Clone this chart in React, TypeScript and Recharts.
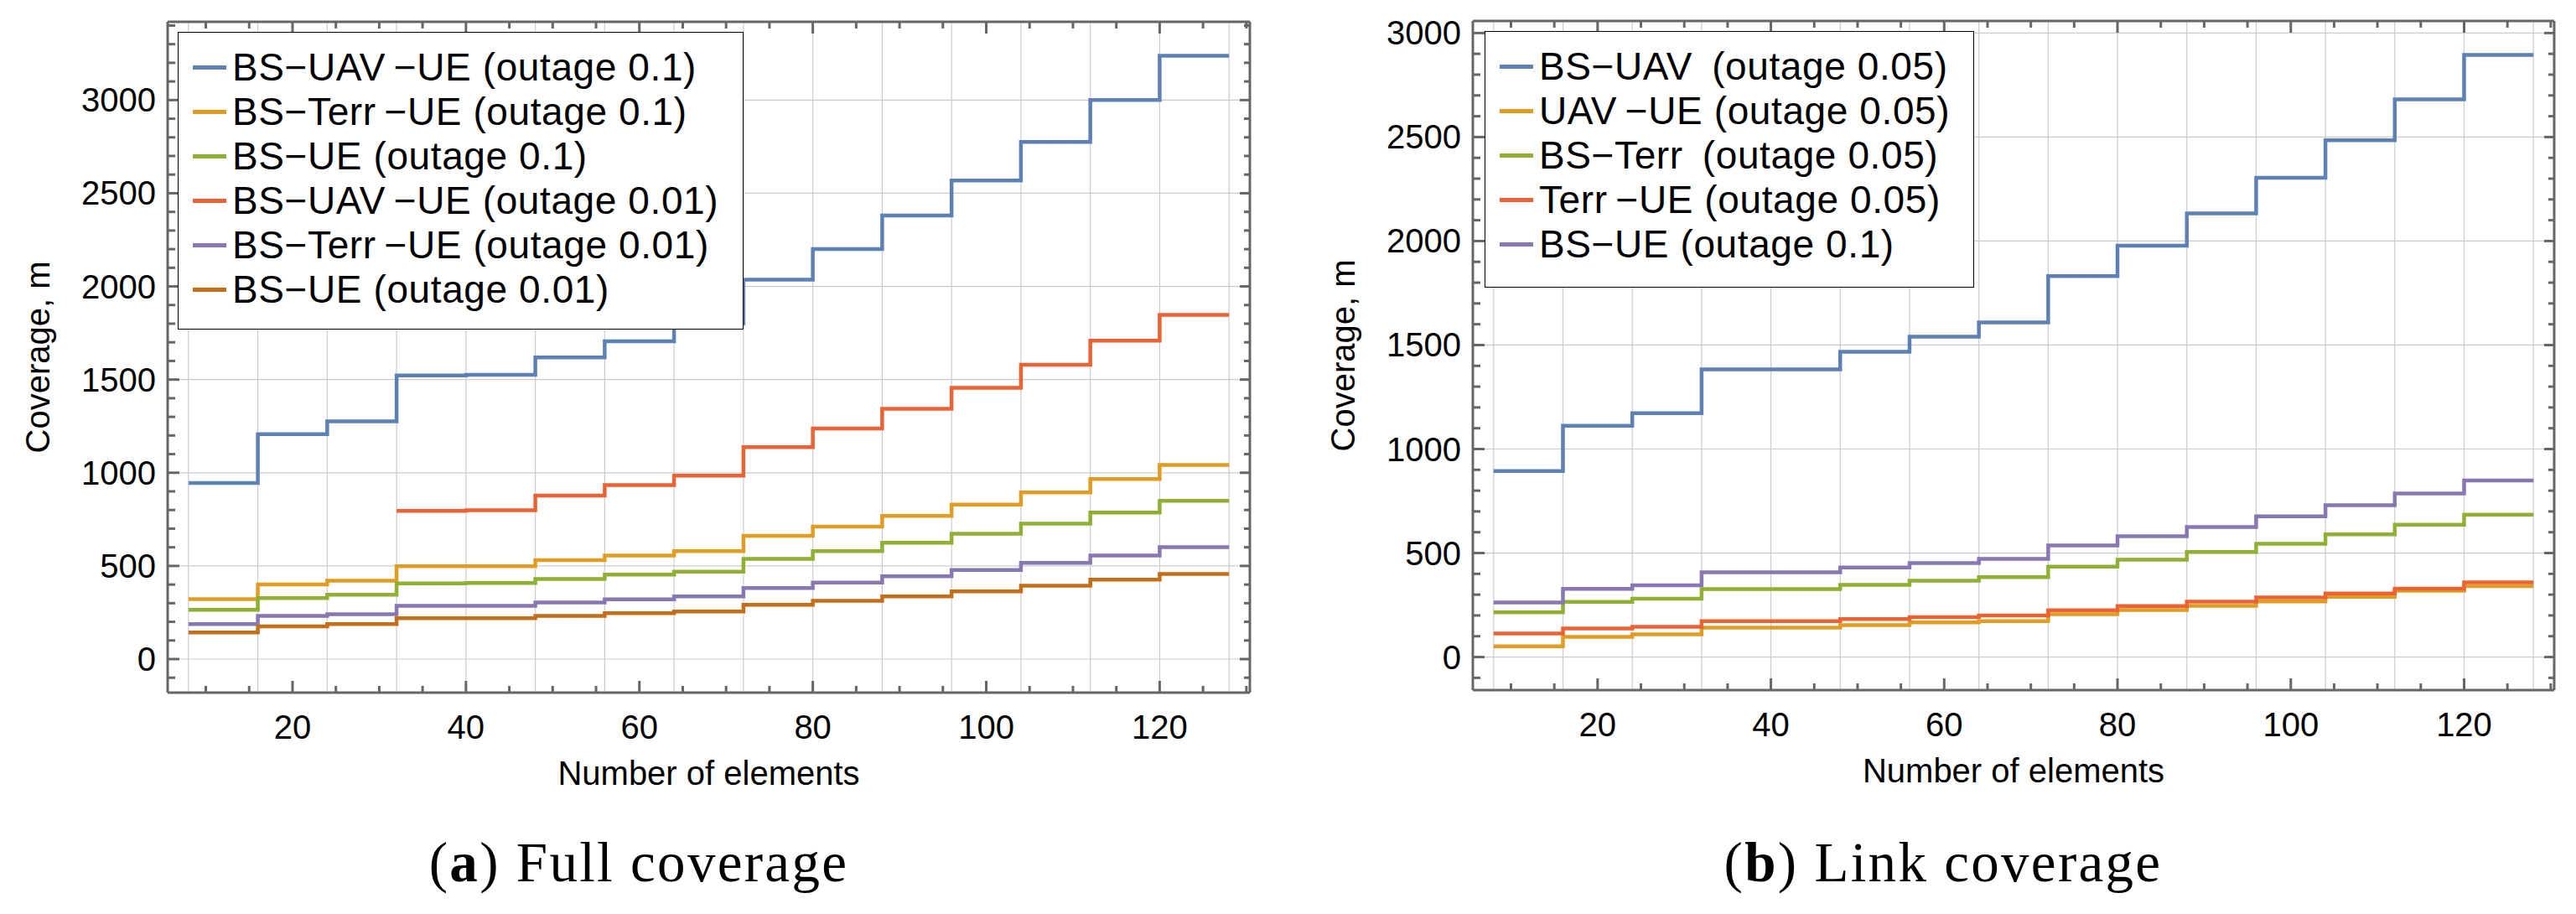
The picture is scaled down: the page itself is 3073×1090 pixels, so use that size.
import { LineChart, Line, XAxis, YAxis, CartesianGrid, Legend } from 'recharts'

const FRAME = '#666666'
const GRID = '#cccccc'
const SANS = '"Liberation Sans", Arial, Helvetica, sans-serif'
const SERIF = '"Liberation Serif", "Times New Roman", serif'

// number of elements (step starts)
const elements = [8, 16, 24, 32, 40, 48, 56, 64, 72, 80, 88, 96, 104, 112, 120, 128]

// (a) full coverage, m
const fullUavOut10 = [945, 1207, 1276, 1522, 1525, 1619, 1706, 1800, 2036, 2201, 2381, 2568, 2775, 3000, 3238, 3238]
const fullTerrOut10 = [322, 400, 421, 498, 498, 531, 556, 579, 661, 711, 768, 829, 894, 966, 1042, 1042]
const fullDirectOut10 = [264, 327, 345, 406, 408, 430, 453, 469, 538, 579, 624, 673, 727, 786, 849, 849]
const fullUavOut01 = [null, null, null, 795, 799, 877, 934, 984, 1137, 1238, 1343, 1456, 1579, 1709, 1847, 1847]
const fullTerrOut01 = [188, 232, 241, 286, 286, 304, 321, 336, 381, 411, 444, 478, 516, 556, 601, 601]
const fullDirectOut01 = [143, 175, 188, 219, 219, 232, 246, 255, 291, 313, 336, 363, 394, 426, 457, 457]

// (b) link coverage, m
const linkBsUav = [894, 1112, 1172, 1383, 1383, 1468, 1540, 1609, 1831, 1978, 2133, 2304, 2485, 2681, 2895, 2895]
const linkUavUe = [52, 97, 109, 141, 141, 153, 167, 173, 206, 226, 246, 267, 289, 319, 341, 341]
const linkBsTerr = [215, 265, 280, 327, 327, 347, 367, 384, 435, 468, 505, 544, 590, 636, 685, 685]
const linkTerrUe = [113, 137, 145, 173, 173, 183, 192, 200, 225, 245, 266, 286, 306, 329, 359, 359]
const linkBsUe = [262, 328, 345, 407, 407, 431, 452, 472, 536, 581, 625, 676, 730, 786, 849, 849]

const xLabels = [20, 40, 60, 80, 100, 120]
const yLabels = [0, 500, 1000, 1500, 2000, 2500, 3000]

const fullNames = [
  'BS\u2212UAV\u2009\u2212UE (outage 0.1)',
  'BS\u2212Terr\u2009\u2212UE (outage 0.1)',
  'BS\u2212UE (outage 0.1)',
  'BS\u2212UAV\u2009\u2212UE (outage 0.01)',
  'BS\u2212Terr\u2009\u2212UE (outage 0.01)',
  'BS\u2212UE (outage 0.01)',
]
const linkNames = [
  'BS\u2212UAV\u2009 (outage 0.05)',
  'UAV\u2009\u2212UE (outage 0.05)',
  'BS\u2212Terr\u2009 (outage 0.05)',
  'Terr\u2009\u2212UE (outage 0.05)',
  'BS\u2212UE (outage 0.1)',
]
const colors = ['#5e81b5', '#e19c24', '#8fb032', '#eb6235', '#8778b3', '#c56e1a']

const range = (from: number, to: number, step: number) => {
  const out: number[] = []
  for (let v = from; v <= to + 1e-9; v += step) out.push(v)
  return out
}
const xTicks = range(10, 130, 5)

const fullData = elements.map((n, i) => ({
  n,
  s0: fullUavOut10[i],
  s1: fullTerrOut10[i],
  s2: fullDirectOut10[i],
  s3: fullUavOut01[i],
  s4: fullTerrOut01[i],
  s5: fullDirectOut01[i],
}))

const linkData = elements.map((n, i) => ({
  n,
  s0: linkBsUav[i],
  s1: linkUavUe[i],
  s2: linkBsTerr[i],
  s3: linkTerrUe[i],
  s4: linkBsUe[i],
}))

const tickText = { fontSize: 40, fontFamily: SANS, fill: '#000' }

function BottomTick({ x, y, payload }: any) {
  const major = xLabels.includes(payload.value)
  return (
    <g>
      <line x1={x} x2={x} y1={y} y2={y - (major ? 14 : 8)} stroke={FRAME} strokeWidth={3} />
      {major && (
        <text x={x} y={y + 55} textAnchor="middle" {...tickText}>
          {payload.value}
        </text>
      )}
    </g>
  )
}

function TopTick({ x, y, payload }: any) {
  const major = xLabels.includes(payload.value)
  return <line x1={x} x2={x} y1={y} y2={y + (major ? 14 : 8)} stroke={FRAME} strokeWidth={3} />
}

function LeftTick({ x, y, payload }: any) {
  const major = payload.value % 500 === 0
  return (
    <g>
      <line x1={x} x2={x + (major ? 14 : 9)} y1={y} y2={y} stroke={FRAME} strokeWidth={3} />
      {major && (
        <text x={x - 14} y={y + 14} textAnchor="end" {...tickText}>
          {payload.value}
        </text>
      )}
    </g>
  )
}

function RightTick({ x, y, payload }: any) {
  const major = payload.value % 500 === 0
  return <line x1={x} x2={x - (major ? 12 : 7)} y1={y} y2={y} stroke={FRAME} strokeWidth={3} />
}

function LegendBox({ payload, names }: any) {
  const items = [...(payload || [])].sort((a: any, b: any) => names.indexOf(a.value) - names.indexOf(b.value))
  return (
    <div style={{ paddingTop: 15 }}>
      {items.map((p: any) => (
        <div key={p.value} style={{ display: 'flex', alignItems: 'center', height: 53 }}>
          <span style={{ display: 'inline-block', width: 40, height: 5, background: p.color, marginLeft: 17, marginRight: 7 }} />
          <span
            style={{
              fontFamily: SANS,
              fontSize: 46,
              letterSpacing: 0.6,
              color: '#000',
              whiteSpace: 'pre',
              lineHeight: '53px',
            }}
          >
            {p.value}
          </span>
        </div>
      ))}
    </div>
  )
}

const XTitle = ({ viewBox }: any) => (
  <text x={viewBox.x + viewBox.width / 2} y={viewBox.y + 110} textAnchor="middle" {...tickText}>
    Number of elements
  </text>
)

const YTitle = ({ viewBox }: any) => {
  const x = viewBox.x + viewBox.width - 141
  const y = viewBox.y + viewBox.height / 2
  return (
    <text x={x} y={y} transform={`rotate(-90 ${x} ${y})`} textAnchor="middle" {...tickText}>
      Coverage, m
    </text>
  )
}

interface PanelProps {
  data: any[]
  names: string[]
  width: number
  margin: { top: number; right: number; bottom: number; left: number }
  leftWidth: number
  bottomHeight: number
  yDomain: [number, number]
  legendBox: { left: number; top: number; width: number; height: number }
}

function CoveragePanel({ data, names, width, margin, leftWidth, bottomHeight, yDomain, legendBox }: PanelProps) {
  const yTicks = range(-100, Math.floor(yDomain[1] / 100) * 100, 100)
  return (
    <LineChart width={width} height={1090} data={data} margin={margin}>
      <CartesianGrid
        xAxisId="b"
        yAxisId="l"
        stroke={GRID}
        strokeWidth={1.2}
        verticalValues={elements}
        horizontalValues={yLabels}
      />
      <XAxis
        xAxisId="b"
        dataKey="n"
        type="number"
        domain={[5.6, 130.4]}
        allowDataOverflow
        ticks={xTicks}
        interval={0}
        tickSize={0}
        tickMargin={0}
        tickLine={false}
        axisLine={{ stroke: FRAME, strokeWidth: 3 }}
        height={bottomHeight}
        tick={(p: any) => <BottomTick {...p} />}
        label={(p: any) => <XTitle {...p} />}
      />
      <XAxis
        xAxisId="t"
        orientation="top"
        dataKey="n"
        type="number"
        domain={[5.6, 130.4]}
        allowDataOverflow
        ticks={xTicks}
        interval={0}
        tickSize={0}
        tickMargin={0}
        tickLine={false}
        axisLine={{ stroke: FRAME, strokeWidth: 3 }}
        height={1}
        tick={(p: any) => <TopTick {...p} />}
      />
      <YAxis
        yAxisId="l"
        type="number"
        domain={yDomain}
        allowDataOverflow
        ticks={yTicks}
        interval={0}
        tickSize={0}
        tickMargin={0}
        tickLine={false}
        axisLine={{ stroke: FRAME, strokeWidth: 3 }}
        width={leftWidth}
        tick={(p: any) => <LeftTick {...p} />}
        label={(p: any) => <YTitle {...p} />}
      />
      <YAxis
        yAxisId="r"
        orientation="right"
        type="number"
        domain={yDomain}
        allowDataOverflow
        ticks={yTicks}
        interval={0}
        tickSize={0}
        tickMargin={0}
        tickLine={false}
        axisLine={{ stroke: FRAME, strokeWidth: 3 }}
        width={1}
        tick={(p: any) => <RightTick {...p} />}
      />
      {names.map((name, i) => (
        <Line
          key={name}
          xAxisId="b"
          yAxisId="l"
          type="stepAfter"
          dataKey={`s${i}`}
          name={name}
          stroke={colors[i]}
          strokeWidth={4.5}
          dot={false}
          activeDot={false}
          isAnimationActive={false}
        />
      ))}
      <Legend
        layout="vertical"
        align="center"
        verticalAlign="middle"
        content={(p: any) => <LegendBox {...p} names={names} />}
        wrapperStyle={{
          left: legendBox.left,
          top: legendBox.top,
          width: legendBox.width,
          height: legendBox.height,
          background: '#fff',
          border: '1.5px solid #000',
          boxSizing: 'border-box',
        }}
      />
    </LineChart>
  )
}

export default function App() {
  return (
    <div style={{ position: 'absolute', left: 0, top: 0, width: 3073, height: 1090, background: '#fff' }}>
      <div style={{ position: 'absolute', left: 0, top: 0 }}>
        <CoveragePanel
          data={fullData}
          names={fullNames}
          width={1560}
          margin={{ top: 25, right: 68, bottom: 0, left: 0 }}
          leftWidth={200}
          bottomHeight={264}
          yDomain={[-180, 3420]}
          legendBox={{ left: 212, top: 38, width: 675, height: 355 }}
        />
      </div>
      <div style={{ position: 'absolute', left: 1560, top: 0 }}>
        <CoveragePanel
          data={linkData}
          names={linkNames}
          width={1513}
          margin={{ top: 24, right: 25, bottom: 0, left: 0 }}
          leftWidth={197}
          bottomHeight={267}
          yDomain={[-159, 3058]}
          legendBox={{ left: 211, top: 37, width: 584, height: 306 }}
        />
      </div>
      <svg width={3073} height={1090} style={{ position: 'absolute', left: 0, top: 0, pointerEvents: 'none' }}>
        <text x={762} y={1051} textAnchor="middle" fontFamily={SERIF} fontSize={67} letterSpacing={2.3} fill="#000">
          (<tspan fontWeight="bold">a</tspan>) Full coverage
        </text>
        <text x={2318} y={1051} textAnchor="middle" fontFamily={SERIF} fontSize={67} letterSpacing={2.3} fill="#000">
          (<tspan fontWeight="bold">b</tspan>) Link coverage
        </text>
      </svg>
    </div>
  )
}
